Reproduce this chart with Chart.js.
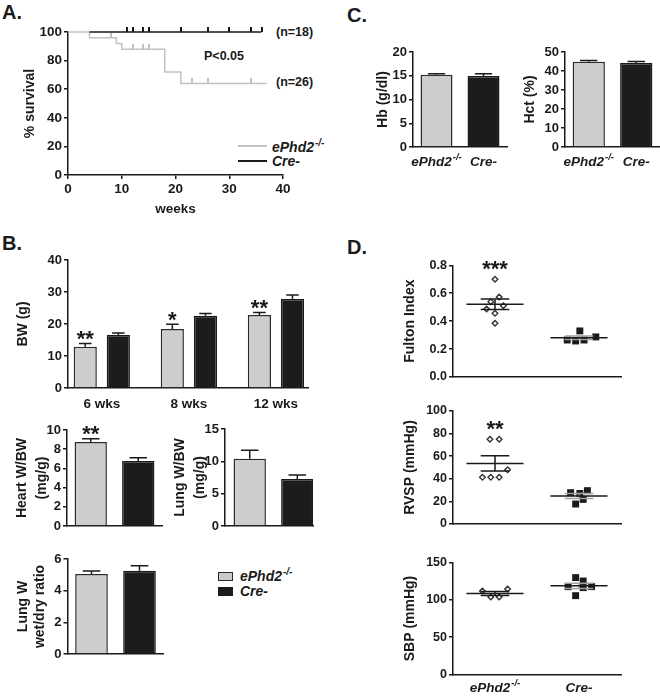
<!DOCTYPE html>
<html>
<head>
<meta charset="utf-8">
<script src="https://cdn.jsdelivr.net/npm/chart.js@4.4.0/dist/chart.umd.min.js"></script>
<style>
html, body { margin: 0; padding: 0; background: #fff; }
#fig { position: relative; width: 660px; height: 698px; overflow: hidden;
       font-family: 'Liberation Sans', Arial, sans-serif; font-weight: bold; color: #1a1a1a; }
.box { position: absolute; }
.txt { position: absolute; line-height: 1; white-space: nowrap; }
.letter { font-size: 20px; }
.note { font-size: 12.5px; }
.leg { font-size: 14px; font-style: italic; }
.leg sup { font-size: 10px; vertical-align: baseline; position: relative; top: -6px; margin-left: 1px; }
.swatch { position: absolute; box-sizing: border-box; }
</style>
</head>
<body>
<div id="fig">
  <div class="txt letter" style="left:2px;top:2px">A.</div>
  <div class="txt letter" style="left:2px;top:233px">B.</div>
  <div class="txt letter" style="left:347px;top:5px">C.</div>
  <div class="txt letter" style="left:347px;top:237px">D.</div>

  <div class="txt note" style="left:276px;top:26px">(n=18)</div>
  <div class="txt note" style="left:276px;top:76px">(n=26)</div>
  <div class="txt note" style="left:204px;top:50px">P&lt;0.05</div>

  <div class="swatch" style="left:238px;top:145px;width:29px;height:2px;background:#c2c2c2"></div>
  <div class="txt leg" style="left:272px;top:140px">ePhd2<sup>-/-</sup></div>
  <div class="swatch" style="left:238px;top:160px;width:29px;height:2px;background:#1a1a1a"></div>
  <div class="txt leg" style="left:272px;top:154px">Cre-</div>

  <div class="swatch" style="left:218px;top:572px;width:15px;height:9px;background:#cbcbcb;border:1px solid #2a2a2a"></div>
  <div class="txt leg" style="left:240px;top:569px">ePhd2<sup>-/-</sup></div>
  <div class="swatch" style="left:218px;top:587px;width:15px;height:9px;background:#1c1c1c"></div>
  <div class="txt leg" style="left:240px;top:584px">Cre-</div>
</div>

<script>
// ---- A: survival ----
const weeksKO = [0, 4, 9, 10, 18, 21, 37];
const survivalKO = [100, 96, 92, 88, 72, 64, 64];
const weeksCre = [4, 36];
const survivalCre = [100, 100];
const censorWeeksKO = [8, 12, 14, 15, 23, 26, 34];
const censorSurvKO = [96, 88, 88, 88, 64, 64, 64];
const censorWeeksCre = [11, 12, 14, 15, 21, 26, 30, 34, 36];
const censorSurvCre = [100, 100, 100, 100, 100, 100, 100, 100, 100];

// ---- B ----
const ageGroups = ['6 wks', '8 wks', '12 wks'];
const bwKO = [12.9, 18.4, 22.8];
const bwKOErr = [1.0, 1.5, 0.8];
const bwCre = [16.6, 22.6, 27.8];
const bwCreErr = [0.6, 0.7, 1.3];
const bwStars = ['**', '*', '**'];

const genotypes = ['ePhd2^-/-', 'Cre-'];
const heartBW = [8.75, 6.77];
const heartBWErr = [0.35, 0.35];
const heartStars = ['**', ''];
const lungBW = [10.4, 7.27];
const lungBWErr = [1.3, 0.6];
const wetDry = [5.05, 5.26];
const wetDryErr = [0.19, 0.31];

// ---- C ----
const hb = [15.2, 14.95];
const hbErr = [0.2, 0.45];
const hct = [44.9, 44.2];
const hctErr = [0.6, 0.8];

// ---- D (values + horizontal jitter in group units) ----
const fultonKO = [0.70, 0.573, 0.539, 0.51, 0.487, 0.456, 0.385];
const fultonKOJit = [0, 0.05, -0.05, 0.1, -0.1, 0, 0];
const fultonCre = [0.33, 0.265, 0.258, 0.265, 0.287];
const fultonCreJit = [0.01, -0.14, -0.04, 0.06, 0.2];
const rvspKO = [75, 75, 48, 41.3, 41.3, 41.3];
const rvspKOJit = [-0.06, 0.05, 0.15, -0.15, -0.05, 0.05];
const rvspCre = [27.7, 27, 29.5, 21.8, 17.7];
const rvspCreJit = [-0.1, 0.01, 0.1, 0.05, -0.04];
const sbpKO = [112, 104, 104, 114.6];
const sbpKOJit = [-0.15, -0.05, 0.05, 0.15];
const sbpCre = [130, 125.4, 117.8, 117.8, 116.5, 105.7];
const sbpCreJit = [-0.04, 0.05, -0.13, 0.15, 0.05, -0.04];

const FAMILY = "'Liberation Sans', Arial, sans-serif";
const INK = '#1a1a1a';
const KO_FILL = '#cdcdcd';
const KO_LINE = '#c2c2c2';
const EDGE = '#2a2a2a';
const CRE_FILL = '#1c1c1c';

Chart.defaults.font.family = FAMILY;
Chart.defaults.font.weight = 'bold';
Chart.defaults.font.size = 13;
Chart.defaults.color = INK;

const fig = document.getElementById('fig');

function place(id, box) {
    const d = document.createElement('div');
    d.className = 'box';
    d.style.left = box[0] + 'px';
    d.style.top = box[1] + 'px';
    d.style.width = box[2] + 'px';
    d.style.height = box[3] + 'px';
    const c = document.createElement('canvas');
    c.id = id;
    d.appendChild(c);
    fig.appendChild(d);
    return c;
}

function make(id, box, pad, config) {
    const canvas = place(id, box);
    config.options = Object.assign({
        responsive: true,
        maintainAspectRatio: false,
        animation: false,
        layout: { padding: { top: pad[0], right: pad[1], bottom: 0, left: 0 } },
        plugins: { legend: { display: false }, tooltip: { enabled: false } }
    }, config.options);
    return new Chart(canvas, config);
}

const pts = (xs, ys) => xs.map((x, i) => ({ x: x, y: ys[i] }));
const groupPts = (vals) => vals.map((v, i) => ({ x: i + 1, y: v }));
const jitterPts = (g, vals, jit) => vals.map((v, i) => ({ x: g + jit[i], y: v }));

function yScale(min, max, step, title, width, opt) {
    opt = opt || {};
    return {
        min: min, max: max,
        ticks: { stepSize: step, padding: 2, color: INK, font: { size: opt.tick || 13 },
                 callback: opt.fmt || (v => v) },
        grid: { drawOnChartArea: false, tickLength: 4, color: INK, lineWidth: 1.5 },
        border: { color: INK, width: 1.5 },
        title: { display: true, text: title, color: INK, padding: 0,
                 font: { size: 14, weight: 'bold', lineHeight: opt.lh || 1.2 } },
        afterFit: s => { s.width = width; }
    };
}

function xGroups(labels, min, max, height, showTicks) {
    return {
        type: 'linear', min: min, max: max, offset: false,
        afterBuildTicks: s => { s.ticks = labels.map((l, i) => ({ value: i + 1 })); },
        ticks: { display: !!showTicks, padding: 8, color: INK, font: { size: 13.5 }, callback: v => labels[v - 1] },
        grid: { display: false, drawTicks: false },
        border: { color: INK, width: 1.5 },
        afterFit: s => { s.height = height; }
    };
}

// error bars (upward only) + significance stars
const errorBars = {
    id: 'errorBars',
    afterDatasetsDraw(chart) {
        const ctx = chart.ctx, ys = chart.scales.y;
        chart.data.datasets.forEach((ds, di) => {
            if (!ds.errors) return;
            chart.getDatasetMeta(di).data.forEach((bar, i) => {
                const top = ys.getPixelForValue(ds.data[i].y + ds.errors[i]);
                const half = bar.width * 0.27;
                ctx.save();
                ctx.strokeStyle = INK;
                ctx.lineWidth = 1.5;
                ctx.beginPath();
                ctx.moveTo(bar.x, bar.y);
                ctx.lineTo(bar.x, top);
                ctx.moveTo(bar.x - half, top);
                ctx.lineTo(bar.x + half, top);
                ctx.stroke();
                if (ds.stars && ds.stars[i]) {
                    ctx.fillStyle = INK;
                    ctx.font = 'bold 22px ' + FAMILY;
                    ctx.textAlign = 'center';
                    ctx.textBaseline = 'alphabetic';
                    ctx.fillText(ds.stars[i], bar.x, top - 10 + 12.5);
                }
                ctx.restore();
            });
        });
    }
};

// mean line + SEM whisker for dot plots
const meanSem = {
    id: 'meanSem',
    afterDatasetsDraw(chart) {
        const ctx = chart.ctx, xs = chart.scales.x, ys = chart.scales.y;
        chart.data.datasets.forEach(ds => {
            const v = ds.data.map(p => p.y), n = v.length;
            const mean = v.reduce((a, b) => a + b, 0) / n;
            const sem = Math.sqrt(v.reduce((a, b) => a + (b - mean) ** 2, 0) / (n - 1) / n);
            const cx = xs.getPixelForValue(ds.groupX);
            const half = xs.getPixelForValue(ds.groupX + 0.34) - cx, cap = half / 2;
            const ym = ys.getPixelForValue(mean);
            const yt = ys.getPixelForValue(mean + sem), yb = ys.getPixelForValue(mean - sem);
            ctx.save();
            ctx.lineWidth = 1.5;
            ctx.strokeStyle = ds.semColor;
            ctx.beginPath();
            ctx.moveTo(cx - cap, yt); ctx.lineTo(cx + cap, yt);
            ctx.moveTo(cx - cap, yb); ctx.lineTo(cx + cap, yb);
            ctx.moveTo(cx, yt); ctx.lineTo(cx, yb);
            ctx.stroke();
            ctx.strokeStyle = INK;
            ctx.beginPath();
            ctx.moveTo(cx - half, ym); ctx.lineTo(cx + half, ym);
            ctx.stroke();
            if (ds.star) {
                const top = Math.min(...v.map(y => ys.getPixelForValue(y)));
                ctx.fillStyle = INK;
                ctx.font = 'bold 22px ' + FAMILY;
                ctx.textAlign = 'center';
                ctx.textBaseline = 'alphabetic';
                ctx.fillText(ds.star, cx, top - 16 + 12.5);
            }
            ctx.restore();
        });
    }
};

// italic group labels with superscript part after '^'
function supLabels(labels, dy) {
    return {
        id: 'supLabels',
        afterDraw(chart) {
            const ctx = chart.ctx, xs = chart.scales.x, y = chart.chartArea.bottom + dy;
            const big = 'italic bold 13.5px ' + FAMILY, small = 'italic bold 9.5px ' + FAMILY;
            ctx.save();
            ctx.fillStyle = INK;
            ctx.textBaseline = 'middle';
            ctx.textAlign = 'left';
            labels.forEach((lab, i) => {
                const parts = lab.split('^'), base = parts[0], sup = parts[1] || '';
                ctx.font = big;
                const w1 = ctx.measureText(base).width;
                ctx.font = small;
                const w2 = sup ? ctx.measureText(sup).width + 1 : 0;
                const x0 = xs.getPixelForValue(i + 1) - (w1 + w2) / 2;
                ctx.font = big;
                ctx.fillText(base, x0, y);
                if (sup) {
                    ctx.font = small;
                    ctx.fillText(sup, x0 + w1 + 1, y - 5);
                }
            });
            ctx.restore();
        }
    };
}

function tickMark(color) {
    const c = document.createElement('canvas');
    c.width = 2;
    c.height = 10;
    const g = c.getContext('2d');
    g.fillStyle = color;
    g.fillRect(0, 0, 2, 5);
    return c;
}

// ---------- A. survival ----------
make('survival', [22, 20, 271, 197], [12, 10], {
    type: 'line',
    data: {
        datasets: [
            { data: pts(weeksCre, survivalCre), borderColor: INK, borderWidth: 1.5, stepped: 'before', pointRadius: 0, clip: false },
            { data: pts(censorWeeksCre, censorSurvCre), showLine: false, pointStyle: tickMark(INK), pointRadius: 3, clip: false },
            { data: pts(weeksKO, survivalKO), borderColor: KO_LINE, borderWidth: 1.5, stepped: 'before', pointRadius: 0, clip: false },
            { data: pts(censorWeeksKO, censorSurvKO), showLine: false, pointStyle: tickMark(KO_LINE), pointRadius: 3, clip: false }
        ]
    },
    options: {
        scales: {
            x: {
                type: 'linear', min: 0, max: 40,
                ticks: { stepSize: 10, padding: 2, color: INK, font: { size: 13.5 } },
                grid: { drawOnChartArea: false, tickLength: 4, color: INK, lineWidth: 1.5 },
                border: { color: INK, width: 1.5 },
                title: { display: true, text: 'weeks', color: INK, padding: 0, font: { size: 13.5, weight: 'bold' } },
                afterFit: s => { s.height = 42; }
            },
            y: yScale(0, 100, 20, '% survival', 46, { tick: 13.5 })
        }
    }
});

// ---------- C. Hb / Hct ----------
function twoBars(vals, errs, stars) {
    return {
        datasets: [{
            data: groupPts(vals), errors: errs, stars: stars,
            backgroundColor: [KO_FILL, CRE_FILL], borderColor: [EDGE, INK], borderWidth: 1.5,
            categoryPercentage: 1, barPercentage: 0.68
        }]
    };
}

make('hb', [375, 40, 136, 135], [12, 4], {
    type: 'bar',
    data: twoBars(hb, hbErr),
    options: { scales: { x: xGroups(genotypes, 0.5, 2.5, 28), y: yScale(0, 20, 5, 'Hb (g/dl)', 38) } },
    plugins: [errorBars, supLabels(genotypes, 15)]
});

make('hct', [522, 40, 138, 135], [12, 0], {
    type: 'bar',
    data: twoBars(hct, hctErr),
    options: { scales: { x: xGroups(genotypes, 0.5, 2.5, 28), y: yScale(0, 50, 10, 'Hct (%)', 43) } },
    plugins: [errorBars, supLabels(genotypes, 15)]
});

// ---------- B. body weight ----------
make('bw', [15, 248, 303, 170], [12, 10], {
    type: 'bar',
    data: {
        datasets: [
            { data: groupPts(bwKO), errors: bwKOErr, stars: bwStars, backgroundColor: KO_FILL, borderColor: EDGE,
              borderWidth: 1.5, categoryPercentage: 0.76, barPercentage: 0.70 },
            { data: groupPts(bwCre), errors: bwCreErr, backgroundColor: CRE_FILL, borderColor: INK,
              borderWidth: 1.5, categoryPercentage: 0.76, barPercentage: 0.70 }
        ]
    },
    options: { scales: { x: xGroups(ageGroups, 0.612, 3.368, 30, true), y: yScale(0, 40, 10, 'BW (g)', 53) } },
    plugins: [errorBars]
});

make('heart', [12, 418, 156, 118], [12, 6], {
    type: 'bar',
    data: twoBars(heartBW, heartBWErr, heartStars),
    options: { scales: { x: xGroups(genotypes, 0.5, 2.5, 10), y: yScale(0, 10, 2, ['Heart W/BW', '(mg/g)'], 55, { lh: 20 / 14 }) } },
    plugins: [errorBars]
});

make('lung', [170, 417, 149, 119], [12, 6], {
    type: 'bar',
    data: twoBars(lungBW, lungBWErr),
    options: { scales: { x: xGroups(genotypes, 0.48, 2.33, 10), y: yScale(0, 15, 5, ['Lung W/BW', '(mg/g)'], 55, { lh: 20 / 14 }) } },
    plugins: [errorBars]
});

make('wetdry', [14.5, 547, 154.5, 117], [12, 6], {
    type: 'bar',
    data: twoBars(wetDry, wetDryErr),
    options: { scales: { x: xGroups(genotypes, 0.5, 2.5, 10), y: yScale(0, 6, 2, ['Lung W', 'wet/dry ratio'], 52.5, { lh: 17 / 14 }) } },
    plugins: [errorBars]
});

// ---------- D. dot plots ----------
function dots(ko, koJit, cre, creJit, star) {
    return {
        datasets: [
            { data: jitterPts(1, ko, koJit), groupX: 1, star: star, semColor: INK,
              pointStyle: 'rectRot', pointRadius: 2.8, borderWidth: 1.4, backgroundColor: '#ffffff', borderColor: '#333333', clip: false },
            { data: jitterPts(2, cre, creJit), groupX: 2, semColor: '#a0a0a0',
              pointStyle: 'rect', pointRadius: 4.9, borderWidth: 0, backgroundColor: INK, borderColor: INK, clip: false }
        ]
    };
}

make('fulton', [402, 253, 225, 134], [12.3, 6], {
    type: 'scatter',
    data: dots(fultonKO, fultonKOJit, fultonCre, fultonCreJit, '***'),
    options: { scales: { x: xGroups(genotypes, 0.5, 2.5, 10), y: yScale(0, 0.8, 0.2, 'Fulton Index', 51, { tick: 12.5, fmt: v => v.toFixed(1) }) } },
    plugins: [meanSem]
});

make('rvsp', [402, 399, 225, 135], [12, 6], {
    type: 'scatter',
    data: dots(rvspKO, rvspKOJit, rvspCre, rvspCreJit, '**'),
    options: { scales: { x: xGroups(genotypes, 0.5, 2.5, 10), y: yScale(0, 100, 20, 'RVSP (mmHg)', 51, { tick: 12.5 }) } },
    plugins: [meanSem]
});

make('sbp', [402, 550, 225, 146.3], [12.7, 6], {
    type: 'scatter',
    data: dots(sbpKO, sbpKOJit, sbpCre, sbpCreJit),
    options: { scales: { x: xGroups(genotypes, 0.5, 2.5, 22), y: yScale(0, 150, 50, 'SBP (mmHg)', 51, { tick: 12.5 }) } },
    plugins: [meanSem, supLabels(genotypes, 14)]
});
</script>
</body>
</html>
